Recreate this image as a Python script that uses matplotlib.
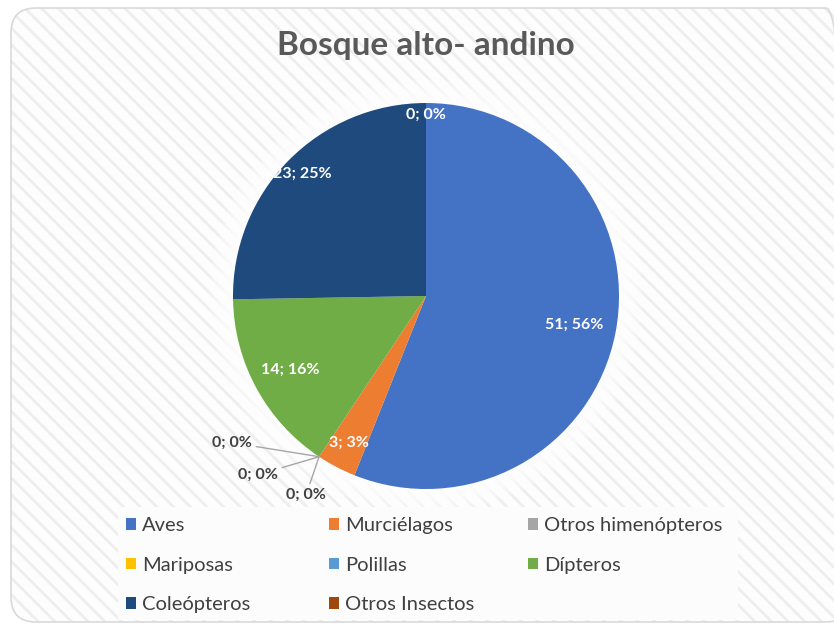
import numpy as np
import matplotlib
matplotlib.use("Agg")
import matplotlib.pyplot as plt
from matplotlib.patches import FancyBboxPatch, Circle, Rectangle

# datos
categorias = ["Aves", "Murciélagos", "Otros himenópteros", "Mariposas",
              "Polillas", "Dípteros", "Coleópteros", "Otros Insectos"]
valores = [51, 3, 0, 0, 0, 14, 23, 0]
porcentajes = [56, 3, 0, 0, 0, 16, 25, 0]
colores = ["#4472C4", "#ED7D31", "#A5A5A5", "#FFC000",
           "#5B9BD5", "#70AD47", "#1F4A7E", "#9E480E"]

plt.rcParams["font.family"] = ["Lato", "DejaVu Sans"]

W, H = 834, 626
fig = plt.figure(figsize=(W / 100, H / 100), dpi=100)
fig.patch.set_facecolor("white")

# fondo con rayas diagonales (el color del rayado sigue al edgecolor)
caja = dict(boxstyle="round,pad=0,rounding_size=0.03",
            transform=fig.transFigure, mutation_aspect=W / H)
xy0, ancho_f, alto_f = (11 / W, 4 / H), 840 / W, 614 / H
plt.rcParams["hatch.linewidth"] = 2.0
fig.patches.append(FancyBboxPatch(xy0, ancho_f, alto_f, facecolor="#fdfdfd",
                                  edgecolor="#eeeeee", linewidth=0,
                                  hatch="\\\\", zorder=-6, **caja))
fig.patches.append(FancyBboxPatch(xy0, ancho_f, alto_f, facecolor="none",
                                  edgecolor="#d9d9d9", linewidth=1.2,
                                  zorder=-5, **caja))

# caja clara de la leyenda
fig.patches.append(Rectangle((118 / W, 1 - 620 / H), (738 - 118) / W, (620 - 507) / H,
                             transform=fig.transFigure, facecolor="#fcfcfc",
                             edgecolor="none", zorder=-4))

# ejes del pastel
r_px = 193
cx, cy = 426, H - 296
lim = 1.3
ancho = 2 * lim * r_px
ax = fig.add_axes([(cx - ancho / 2) / W, (cy - ancho / 2) / H, ancho / W, ancho / H])
ax.set_facecolor("none")

# brillo suave alrededor del pastel
for k in range(6):
    ax.add_patch(Circle((0, 0), 1.0 + 0.02 * (k + 1), color="white",
                        alpha=0.25, zorder=0, lw=0))

wedges, _ = ax.pie(valores, colors=colores, startangle=90, counterclock=False,
                   radius=1.0, wedgeprops=dict(linewidth=0))
ax.set_xlim(-lim, lim)
ax.set_ylim(-lim, lim)
ax.set_aspect("equal")
ax.axis("off")

# etiquetas dentro
radio_etq = {0: 0.78, 1: 0.86, 5: 0.80, 6: 0.90, 7: 0.94}
for i, w in enumerate(wedges):
    if i in radio_etq:
        ang = np.deg2rad((w.theta1 + w.theta2) / 2)
        r = radio_etq[i]
        ax.text(r * np.cos(ang), r * np.sin(ang),
                f"{valores[i]}; {porcentajes[i]}%", ha="center", va="center",
                color="white", fontsize=11.5, fontweight="bold")

# etiquetas de ceros con líneas guía
desplaz = {2: (-87, 14), 3: (-61, -18), 4: (-13, -38)}
for i, (dx, dy) in desplaz.items():
    w = wedges[i]
    ang = np.deg2rad(w.theta1)
    ax.annotate(f"{valores[i]}; {porcentajes[i]}%",
                xy=(np.cos(ang), np.sin(ang)),
                xytext=(dx * 0.72, dy * 0.72), textcoords="offset points",
                ha="center", va="center", fontsize=11.5, fontweight="bold",
                color="#404040",
                arrowprops=dict(arrowstyle="-", color="#a6a6a6", lw=1.0,
                                shrinkA=1, shrinkB=0, connectionstyle="arc3"))

fig.text(cx / W, 1 - 45 / H, "Bosque alto- andino", ha="center", va="center",
         fontsize=24, fontweight="bold", color="#595959")

# leyenda: una por columna, orden por filas
x_col = [126, 329, 528]
for c, x0 in enumerate(x_col):
    idx = list(range(c, len(categorias), 3))
    leg = fig.legend([wedges[i] for i in idx], [categorias[i] for i in idx],
                     loc="upper left", bbox_to_anchor=(x0 / W, 1 - 517 / H),
                     frameon=False, fontsize=14.5, handlelength=0.5,
                     handleheight=0.5, handletextpad=0.3, labelspacing=1.12,
                     borderpad=0, borderaxespad=0, labelcolor="#404040")

fig.savefig("out.png", dpi=100)
